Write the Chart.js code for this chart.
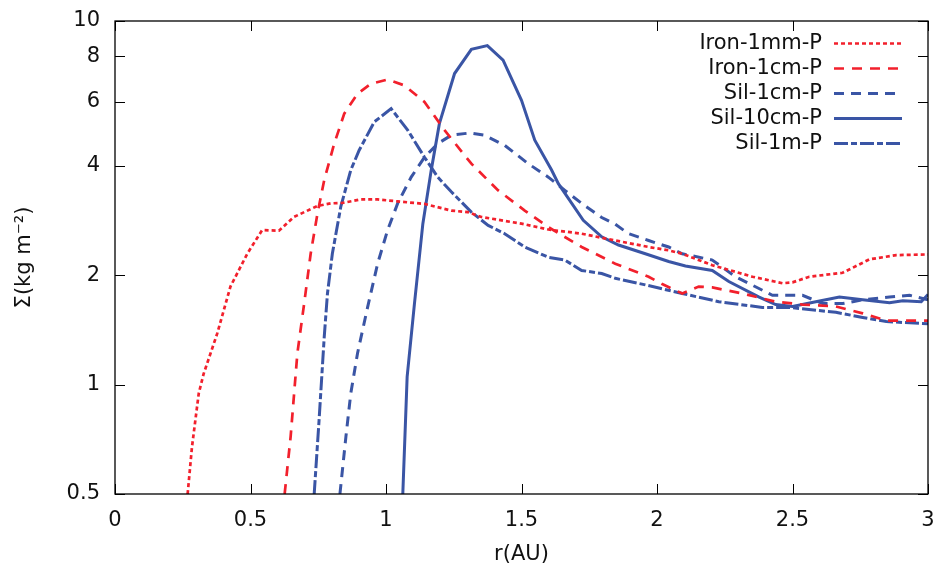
<!DOCTYPE html>
<html>
<head>
<meta charset="utf-8">
<script src="https://cdn.jsdelivr.net/npm/chart.js@4.4.1/dist/chart.umd.min.js"></script>
<style>
  html, body { margin: 0; padding: 0; background: #fff; }
  #wrap { width: 940px; height: 570px; }
</style>
</head>
<body>
<div id="wrap"><canvas id="chart" width="940" height="570"></canvas></div>
<script>
// tick values
const xTicks = [0, 0.5, 1, 1.5, 2, 2.5, 3];
const yTicks = [0.5, 1, 2, 4, 6, 8, 10];

// r (AU) and surface density, one pair of arrays per run
const iron1mmR = [0.268, 0.284, 0.309, 0.327, 0.377, 0.426, 0.488, 0.543, 0.605, 0.660, 0.747, 0.796, 0.84, 0.907, 0.969, 1.043, 1.142, 1.241, 1.302, 1.352, 1.5, 1.599, 1.722, 1.846, 1.969, 2.043, 2.093, 2.204, 2.352, 2.463, 2.5, 2.562, 2.685, 2.784, 2.883, 3.0];
const iron1mmS = [0.5, 0.673, 0.945, 1.07, 1.38, 1.86, 2.29, 2.66, 2.65, 2.89, 3.10, 3.15, 3.16, 3.23, 3.23, 3.19, 3.14, 3.01, 2.98, 2.89, 2.77, 2.67, 2.60, 2.49, 2.39, 2.34, 2.29, 2.13, 1.98, 1.90, 1.91, 1.98, 2.03, 2.21, 2.27, 2.28];

const iron1cmR = [0.626, 0.648, 0.673, 0.698, 0.722, 0.747, 0.772, 0.809, 0.846, 0.895, 0.944, 1.006, 1.068, 1.142, 1.216, 1.315, 1.414, 1.512, 1.599, 1.722, 1.846, 1.969, 2.019, 2.093, 2.154, 2.204, 2.315, 2.438, 2.537, 2.660, 2.759, 2.846, 3.0];
const iron1cmS = [0.5, 0.718, 1.22, 1.67, 2.29, 2.95, 3.65, 4.60, 5.56, 6.31, 6.72, 6.90, 6.65, 5.99, 5.01, 4.05, 3.42, 3.01, 2.71, 2.39, 2.15, 1.98, 1.89, 1.78, 1.86, 1.85, 1.78, 1.69, 1.66, 1.64, 1.57, 1.50, 1.50];

const sil1cmR = [0.830, 0.852, 0.870, 0.895, 0.932, 0.969, 1.006, 1.043, 1.093, 1.142, 1.191, 1.241, 1.309, 1.364, 1.438, 1.525, 1.599, 1.660, 1.722, 1.796, 1.846, 1.895, 1.969, 2.043, 2.093, 2.204, 2.290, 2.426, 2.537, 2.611, 2.685, 2.759, 2.858, 2.932, 3.0];
const sil1cmS = [0.5, 0.718, 0.945, 1.22, 1.63, 2.15, 2.66, 3.15, 3.72, 4.22, 4.60, 4.85, 4.92, 4.85, 4.55, 4.05, 3.72, 3.42, 3.15, 2.88, 2.76, 2.60, 2.49, 2.39, 2.29, 2.20, 1.98, 1.76, 1.76, 1.67, 1.67, 1.71, 1.74, 1.76, 1.71];

const sil10cmR = [1.062, 1.078, 1.105, 1.136, 1.167, 1.197, 1.253, 1.315, 1.374, 1.432, 1.5, 1.549, 1.611, 1.636, 1.728, 1.796, 1.858, 1.957, 2.043, 2.105, 2.204, 2.265, 2.377, 2.438, 2.5, 2.586, 2.673, 2.759, 2.858, 2.907, 2.975, 3.0];
const sil10cmS = [0.5, 1.05, 1.67, 2.77, 3.89, 5.22, 7.17, 8.36, 8.56, 7.80, 6.05, 4.70, 3.89, 3.57, 2.83, 2.55, 2.42, 2.29, 2.18, 2.12, 2.06, 1.92, 1.74, 1.66, 1.64, 1.69, 1.74, 1.71, 1.68, 1.70, 1.69, 1.77];

const sil1mR = [0.735, 0.753, 0.772, 0.784, 0.802, 0.833, 0.870, 0.901, 0.957, 1.019, 1.080, 1.142, 1.191, 1.241, 1.315, 1.377, 1.438, 1.512, 1.599, 1.660, 1.722, 1.796, 1.846, 1.957, 2.093, 2.228, 2.389, 2.488, 2.660, 2.759, 2.846, 3.0];
const sil1mS = [0.5, 0.797, 1.35, 1.78, 2.29, 3.08, 3.89, 4.41, 5.28, 5.74, 5.01, 4.22, 3.72, 3.39, 2.98, 2.74, 2.60, 2.39, 2.24, 2.20, 2.06, 2.02, 1.96, 1.88, 1.78, 1.69, 1.63, 1.63, 1.58, 1.53, 1.49, 1.47];

const RED = "#f2202c";
const BLUE = "#3a55a5";
const FONT = "'DejaVu Sans', sans-serif";

const toPoints = (rs, ss) => rs.map((r, i) => ({ x: r, y: ss[i] }));

const line = (label, rs, ss, color, dash, width) => ({
  label: label,
  data: toPoints(rs, ss),
  borderColor: color,
  backgroundColor: color,
  borderDash: dash,
  borderWidth: width,
  pointRadius: 0,
  tension: 0,
  fill: false,
});

// frame box and inward ticks on all four sides, like gnuplot
const frameTicks = {
  id: "frameTicks",
  afterDatasetsDraw(chart) {
    const { ctx, chartArea: a, scales: { x, y } } = chart;
    ctx.save();
    ctx.strokeStyle = "#000";
    ctx.lineWidth = 1;
    ctx.beginPath();
    x.ticks.forEach((t) => {
      const px = Math.round(x.getPixelForValue(t.value)) + 0.5;
      ctx.moveTo(px, a.bottom); ctx.lineTo(px, a.bottom - 10);
      ctx.moveTo(px, a.top); ctx.lineTo(px, a.top + 10);
    });
    y.ticks.forEach((t) => {
      const py = Math.round(y.getPixelForValue(t.value)) + 0.5;
      ctx.moveTo(a.left, py); ctx.lineTo(a.left + 10, py);
      ctx.moveTo(a.right, py); ctx.lineTo(a.right - 10, py);
    });
    ctx.stroke();
    ctx.lineWidth = 1.3;
    ctx.strokeRect(a.left, a.top, a.right - a.left, a.bottom - a.top);
    ctx.restore();
  },
};

// gnuplot style key: text right aligned, sample line after it
const keyBox = {
  id: "keyBox",
  afterDraw(chart) {
    const ctx = chart.ctx;
    ctx.save();
    ctx.font = "21px " + FONT;
    ctx.textAlign = "right";
    ctx.textBaseline = "middle";
    chart.data.datasets.forEach((ds, i) => {
      const yy = 43.5 + i * 25;
      ctx.fillStyle = "#111";
      ctx.fillText(ds.label, 822, yy);
      ctx.strokeStyle = ds.borderColor;
      ctx.lineWidth = ds.borderWidth;
      ctx.setLineDash(ds.borderDash);
      ctx.beginPath();
      ctx.moveTo(834, yy);
      ctx.lineTo(902, yy);
      ctx.stroke();
    });
    ctx.restore();
  },
};

Chart.defaults.font.family = FONT;
Chart.defaults.color = "#111";

new Chart(document.getElementById("chart"), {
  type: "line",
  data: {
    datasets: [
      line("Iron-1mm-P", iron1mmR, iron1mmS, RED, [4, 3], 2.7),
      line("Iron-1cm-P", iron1cmR, iron1cmS, RED, [10, 8], 2.7),
      line("Sil-1cm-P", sil1cmR, sil1cmS, BLUE, [10, 7], 3),
      line("Sil-10cm-P", sil10cmR, sil10cmS, BLUE, [], 3),
      line("Sil-1m-P", sil1mR, sil1mS, BLUE, [14, 3, 6, 3], 3),
    ],
  },
  plugins: [frameTicks, keyBox],
  options: {
    responsive: false,
    animation: false,
    devicePixelRatio: 1,
    layout: { padding: { top: 21, right: 12, left: 0, bottom: 0 } },
    plugins: {
      legend: { display: false },
      tooltip: { enabled: false },
    },
    scales: {
      x: {
        type: "linear",
        min: 0,
        max: 3,
        afterBuildTicks: (s) => { s.ticks = xTicks.map((v) => ({ value: v })); },
        afterFit: (s) => { s.height = 76; s.paddingLeft = 0; s.paddingRight = 0; },
        grid: { display: false, drawTicks: false },
        border: { display: false },
        ticks: { font: { size: 21 }, padding: 14, maxRotation: 0, callback: (v) => String(v) },
        title: { display: true, text: "r(AU)", font: { size: 21 }, padding: { top: 0, bottom: 3 } },
      },
      y: {
        type: "logarithmic",
        min: 0.5,
        max: 10,
        afterBuildTicks: (s) => { s.ticks = yTicks.map((v) => ({ value: v })); },
        afterFit: (s) => { s.width = 115; s.paddingTop = 0; s.paddingBottom = 0; },
        grid: { display: false, drawTicks: false },
        border: { display: false },
        ticks: { font: { size: 21 }, padding: 15, callback: (v) => String(v) },
        title: { display: true, text: "Σ(kg m⁻²)", font: { size: 21 }, padding: { top: 12, bottom: 0 } },
      },
    },
  },
});
</script>
</body>
</html>
